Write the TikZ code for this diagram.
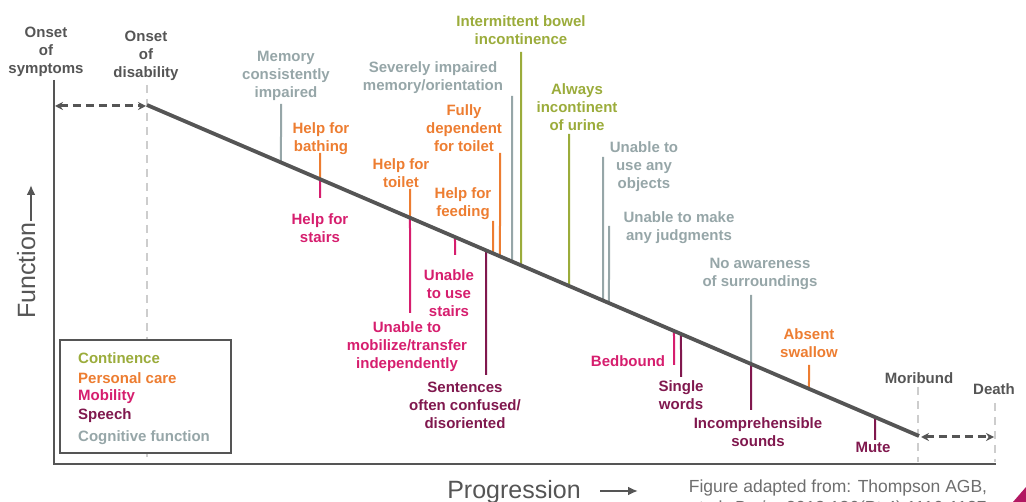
\documentclass[tikz,border=0pt]{standalone}
\usepackage{fontspec}
\setmainfont{Liberation Sans}
\usetikzlibrary{calc,arrows.meta}
\definecolor{cont}{RGB}{155,172,59}
\definecolor{pcare}{RGB}{237,125,49}
\definecolor{mob}{RGB}{214,30,110}
\definecolor{spch}{RGB}{128,24,78}
\definecolor{cogn}{RGB}{150,166,168}
\definecolor{dk}{RGB}{85,85,85}
\definecolor{lg}{RGB}{205,205,205}
\definecolor{capg}{RGB}{110,110,110}
\definecolor{corner}{RGB}{178,24,98}
\newcommand\evup[4]{\coordinate (#1a) at (#3,#4); \coordinate (#1b) at ($(S)!{(#3-147)/772}!(E)$); \draw[evl,#2] (#1a) -- (#1b);}
\newcommand\evdn[4]{\coordinate (#1a) at ($(S)!{(#3-147)/772}!(E)$); \coordinate (#1b) at (#3,#4); \draw[evl,#2] (#1a) -- (#1b);}
\begin{document}
\begin{tikzpicture}[x=1pt,y=-1pt,
 lbl/.style={font=\bfseries\fontsize{15}{18}\selectfont, align=center, inner sep=0pt, yshift=-2pt},
 leg/.style={font=\bfseries\fontsize{15}{18}\selectfont, anchor=west, inner sep=0pt},
 evl/.style={line width=2pt},
 gdash/.style={draw=lg, line width=2pt, dash pattern=on 8pt off 6pt},
 darr/.style={draw=dk, line width=3pt, dash pattern=on 8pt off 5pt, {Stealth[length=8pt,width=8pt]}-{Stealth[length=8pt,width=8pt]}},
 axl/.style={draw=dk, line width=2pt},
 big/.style={font=\fontsize{25}{28}\selectfont, text=dk, inner sep=0pt},
]
\useasboundingbox (0,0) rectangle (1026,502);
\coordinate (S) at (147,105);
\coordinate (E) at (919,436);

% axes
\coordinate (axTop) at (54,80);
\coordinate (axO) at (54,464);
\coordinate (axR) at (996,464);
\draw[axl] (axTop) -- (axO) -- (axR);

% grey dashed markers
\coordinate (dTop) at (147,85); \coordinate (dBot) at (147,462);
\draw[gdash] (dTop) -- (dBot);
\coordinate (mTop) at (918,387); \coordinate (mBot) at (918,462);
\draw[gdash] (mTop) -- (mBot);
\coordinate (xTop) at (995,403); \coordinate (xBot) at (995,462);
\draw[gdash] (xTop) -- (xBot);

% dashed arrows
\coordinate (symA) at (55,106);
\coordinate (disA) at (146,106);
\draw[darr] (symA) -- (disA);
\coordinate (morA) at (921,437);
\coordinate (deaA) at (994,437);
\draw[darr] (morA) -- (deaA);

% event lines above main line
\evup{c1}{cogn}{281}{104}
\evup{p1}{pcare}{320}{153}
\evup{p2}{pcare}{410}{189}
\evup{p3}{pcare}{493}{221}
\evup{p4}{pcare}{500}{153}
\evup{c2}{cogn}{512}{96}
\evup{k1}{cont}{521}{52}
\evup{k2}{cont}{569}{134}
\evup{c3}{cogn}{603}{157}
\evup{c4}{cogn}{609}{226}
\evup{c5}{cogn}{751}{295}
\evup{p5}{pcare}{809}{365}
% event lines below main line
\evdn{m1}{mob}{320}{198}
\evdn{m2}{mob}{410}{313}
\evdn{m3}{mob}{455}{255}
\evdn{s1}{spch}{486}{375}
\evdn{m4}{mob}{674}{365}
\evdn{s2}{spch}{681}{377}
\evdn{s3}{spch}{751}{410}
\evdn{s4}{spch}{875}{440}

% main decline line
\draw[dk, line width=3.8pt] (S) -- (E);

% labels
\node[lbl, text=dk] (onS) at (46,50) {Onset\\of\\symptoms};
\node[lbl, text=dk] (onD) at (146,54) {Onset\\of\\disability};
\node[lbl, text=dk] (mor) at (919,376) {Moribund};
\node[lbl, text=dk] (dea) at (994,387) {Death};

\node[lbl, text=cogn] (lMem) at (286,74) {Memory\\consistently\\impaired};
\node[lbl, text=pcare] (lBath) at (321,137) {Help for\\bathing};
\node[lbl, text=mob] (lStair) at (320,226) {Help for\\stairs};
\node[lbl, text=pcare] (lToil) at (401,171) {Help for\\toilet};
\node[lbl, text=mob] (lMobil) at (407,345) {Unable to\\mobilize/transfer\\independently};
\node[lbl, text=mob] (lUse) at (449,291) {Unable\\to use\\stairs};
\node[lbl, text=spch] (lSent) at (465,403) {Sentences\\often confused/\\disoriented};
\node[lbl, text=cogn] (lSev) at (433,76) {Severely impaired\\memory/orientation};
\node[lbl, text=pcare] (lFull) at (464,126) {Fully\\dependent\\for toilet};
\node[lbl, text=pcare] (lFeed) at (463,202) {Help for\\feeding};
\node[lbl, text=cont] (lBowel) at (521,28) {Intermittent bowel\\incontinence};
\node[lbl, text=cont] (lUrine) at (577,105) {Always\\incontinent\\of urine};
\node[lbl, text=cogn] (lObj) at (644,165) {Unable to\\use any\\objects};
\node[lbl, text=cogn] (lJudg) at (679,226) {Unable to make\\any judgments};
\node[lbl, text=cogn] (lAware) at (760,272) {No awareness\\of surroundings};
\node[lbl, text=pcare] (lSwal) at (809,341) {Absent\\swallow};
\node[lbl, text=mob] (lBed) at (628,359) {Bedbound};
\node[lbl, text=spch] (lSingle) at (681,393) {Single\\words};
\node[lbl, text=spch] (lIncomp) at (758,430) {Incomprehensible\\sounds};
\node[lbl, text=spch] (lMute) at (873,445) {Mute};

% legend
\node[draw=dk, line width=2pt, fill=white, minimum width=171pt, minimum height=113pt, inner sep=0pt] (legend) at (145.5,396.5) {};
\node[leg, text=cont] (gCont) at (78,358) {Continence};
\node[leg, text=pcare] (gPc) at (78,378) {Personal care};
\node[leg, text=mob] (gMob) at (78,397) {Mobility};
\node[leg, text=spch] (gSp) at (78,416) {Speech};
\node[leg, text=cogn] (gCog) at (78,438) {Cognitive function};

% axis titles
\node[big, rotate=90, anchor=base] (fun) at (35,271) {Function};
\coordinate (fA) at (31,221); \coordinate (fB) at (31,185);
\draw[dk, line width=2.5pt, -{Latex[length=10pt,width=9pt]}] (fA) -- (fB);
\node[big, anchor=base] (prog) at (514,499) {Progression};
\coordinate (pA) at (600,491); \coordinate (pB) at (638,491);
\draw[dk, line width=2.5pt, -{Latex[length=10pt,width=9pt]}] (pA) -- (pB);

% caption
\node[font=\fontsize{17.5}{21}\selectfont, text=capg, anchor=base, inner sep=0pt] (cap1) at (838,493) {Figure adapted from: Thompson AGB,};
\node[font=\fontsize{17.5}{21}\selectfont, text=capg, anchor=base, inner sep=0pt] (cap2) at (838,514) {et al. \textit{Brain}. 2013;136(Pt 4):1116-1127};

% corner decoration
\fill[corner] (1013,502) -- (1026,487) -- (1026,502) -- cycle;
\end{tikzpicture}
\end{document}
